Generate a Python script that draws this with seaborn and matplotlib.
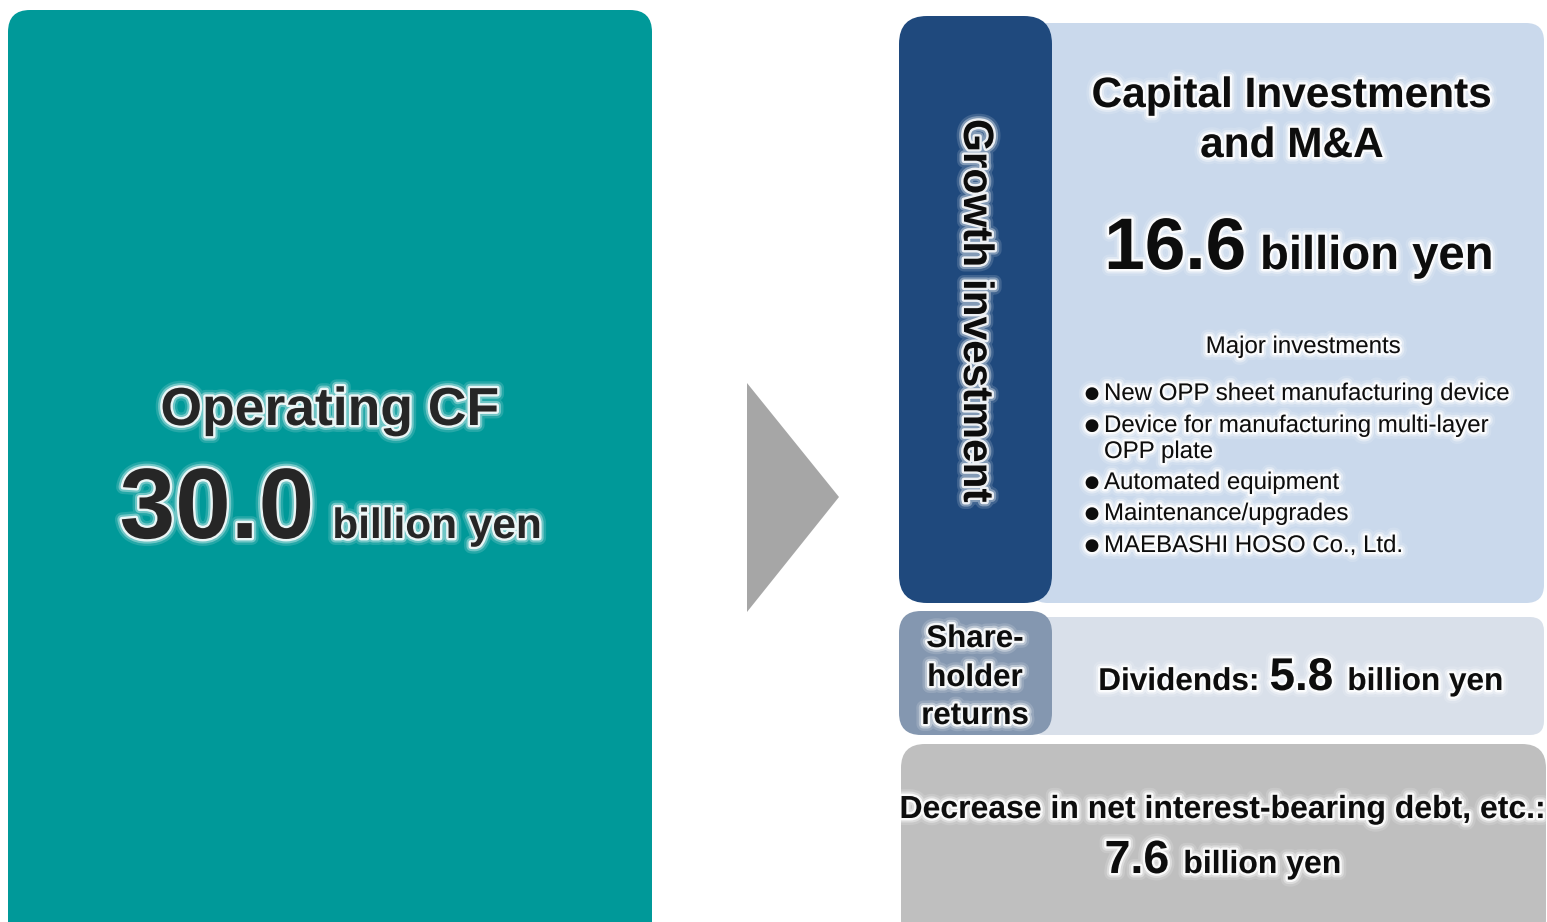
import matplotlib
matplotlib.use("Agg")
import matplotlib.pyplot as plt
import matplotlib.patheffects as pe
from matplotlib.patches import FancyBboxPatch, Polygon
import seaborn as sns

# ---- figures shown on the slide (billion yen) ----
operating_cf = [30.0]
allocation_labels = ["Growth investment", "Shareholder returns", "Debt reduction"]
allocation_values = [16.6, 5.8, 7.6]
major_investments = [
    ["New OPP sheet manufacturing device"],
    ["Device for manufacturing multi-layer", "OPP plate"],
    ["Automated equipment"],
    ["Maintenance/upgrades"],
    ["MAEBASHI HOSO Co., Ltd."],
]

sns.set_theme(style="white")
plt.rcParams["font.family"] = ["Liberation Sans", "DejaVu Sans"]

W, H = 1547, 922
fig = plt.figure(figsize=(W / 100, H / 100), dpi=100)
ax = fig.add_axes([0, 0, 1, 1])
ax.set_xlim(0, W)
ax.set_ylim(H, 0)
ax.axis("off")

TEAL = "#009999"
NAVY = "#1f497d"
LIGHT_BLUE = "#cad9ec"
SLATE = "#8497b0"
PALE = "#d9e0ea"
GREY = "#bfbfbf"
ARROW = "#a6a6a6"

GLOW = [
    pe.withStroke(linewidth=10, foreground="white", alpha=0.15),
    pe.withStroke(linewidth=6.5, foreground="white", alpha=0.35),
    pe.withStroke(linewidth=3.5, foreground="white", alpha=0.85),
]


def box(x, y, w, h, color, r, z=1):
    p = FancyBboxPatch((x, y), w, h,
                       boxstyle=f"round,pad=0,rounding_size={r}",
                       fc=color, ec="none", zorder=z)
    ax.add_patch(p)


# panels
box(8, 10, 644, 940, TEAL, 22)
box(1030, 23, 514, 580, LIGHT_BLUE, 18, z=1)
box(899, 16, 153, 587, NAVY, 28, z=2)
box(1030, 617, 514, 118, PALE, 14, z=1)
box(899, 611, 153, 124, SLATE, 22, z=2)
box(901, 744, 645, 200, GREY, 24, z=1)

ax.add_patch(Polygon([[747, 383], [747, 612], [839, 497]], closed=True,
                     fc=ARROW, ec="none"))

fig.canvas.draw()
renderer = fig.canvas.get_renderer()


def text_width(s, size, weight):
    t = ax.text(0, 0, s, fontsize=size, fontweight=weight)
    bb = t.get_window_extent(renderer=renderer)
    t.remove()
    return bb.width


def row(cx, baseline, parts, color):
    """Draw a row of (text, size, weight, spacing_after) centred at cx."""
    widths = [text_width(s, sz, wt) for s, sz, wt, sp in parts]
    total = sum(widths) + sum(sp for *_, sp in parts[:-1])
    x = cx - total / 2
    for (s, sz, wt, sp), w in zip(parts, widths):
        ax.text(x, baseline, s, fontsize=sz, fontweight=wt, color=color,
                ha="left", va="baseline", path_effects=GLOW, zorder=5)
        x += w + sp


DARK = "#262626"
BLACK = "#0d0d0d"

# left: operating cash flow
ax.text(330, 425, "Operating CF", fontsize=38.5, fontweight="bold", color=DARK,
        ha="center", va="baseline", path_effects=GLOW, zorder=5)
row(331, 538, [(f"{operating_cf[0]:.1f}", 72, "bold", 18),
               ("billion yen", 30.5, "bold", 0)], DARK)

# growth investment
ax.text(975, 311, allocation_labels[0], fontsize=30.5, fontweight="bold",
        color=BLACK, rotation=270, ha="center", va="center",
        path_effects=GLOW, zorder=5)
ax.text(1292, 107, "Capital Investments", fontsize=30.5, fontweight="bold",
        color=BLACK, ha="center", va="baseline", path_effects=GLOW, zorder=5)
ax.text(1292, 157, "and M&A", fontsize=30.5, fontweight="bold",
        color=BLACK, ha="center", va="baseline", path_effects=GLOW, zorder=5)
row(1299, 269, [(f"{allocation_values[0]:.1f}", 52.5, "bold", 14),
                ("billion yen", 34, "bold", 0)], BLACK)

ax.text(1303, 353, "Major investments", fontsize=17.3, color=BLACK,
        ha="center", va="baseline", path_effects=GLOW, zorder=5)

baselines = [400, 432, 458, 489, 520, 552]
i = 0
for item in major_investments:
    ax.text(1092, baselines[i] - 2, "●", fontsize=12, color=BLACK,
            ha="center", va="baseline", zorder=5,
            family=["DejaVu Sans"], path_effects=GLOW)
    for line in item:
        ax.text(1104, baselines[i], line, fontsize=17.3, color=BLACK,
                ha="left", va="baseline", path_effects=GLOW, zorder=5)
        i += 1

# shareholder returns
for s, b in zip(["Share-", "holder", "returns"], [647, 686, 724]):
    ax.text(975, b, s, fontsize=22.5, fontweight="bold", color=BLACK,
            ha="center", va="baseline", path_effects=GLOW, zorder=5)
row(1301, 690, [("Dividends:", 22.7, "bold", 10),
                (f"{allocation_values[1]:.1f}", 33, "bold", 14),
                ("billion yen", 22.7, "bold", 0)], BLACK)

# debt reduction
ax.text(1223, 818, "Decrease in net interest-bearing debt, etc.:",
        fontsize=23, fontweight="bold", color=BLACK, ha="center",
        va="baseline", path_effects=GLOW, zorder=5)
row(1223, 873, [(f"{allocation_values[2]:.1f}", 33.5, "bold", 14),
                ("billion yen", 23, "bold", 0)], BLACK)

fig.savefig("out.png", dpi=100, facecolor="white")
